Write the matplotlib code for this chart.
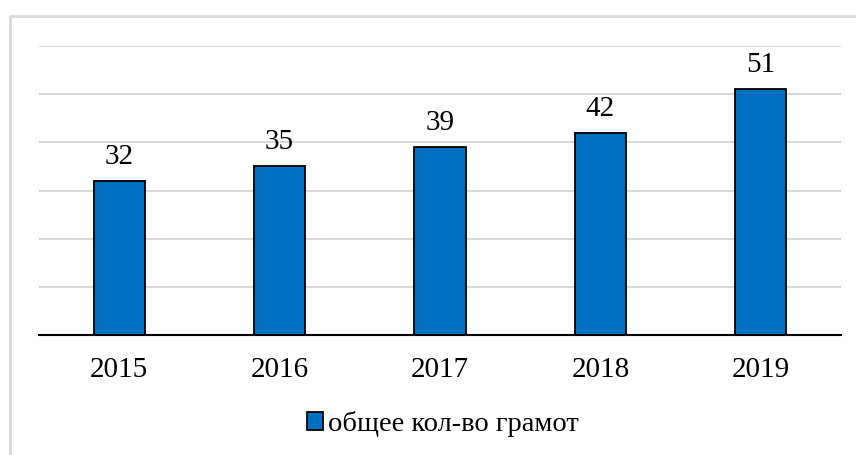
import matplotlib
matplotlib.use("Agg")
import matplotlib.pyplot as plt
from matplotlib.patches import Rectangle

years = ["2015", "2016", "2017", "2018", "2019"]
values = [32, 35, 39, 42, 51]
series_name = "общее кол-во грамот"

W, H = 856, 455
fig = plt.figure(figsize=(W / 100, H / 100), dpi=100)
plt.rcParams['font.family'] = ['Liberation Serif', 'DejaVu Serif']

# outer chart frame
fig.patches.append(Rectangle((10 / W, -0.1), 1.2, (H - 16) / H + 0.1, transform=fig.transFigure,
                             fill=False, edgecolor='#d9d9d9', linewidth=2.0))

ax = fig.add_axes([39 / W, 1 - 335 / H, (841 - 39) / W, (335 - 46) / H])
x = range(len(years))
bars = ax.bar(x, values, width=0.32, color='#0070C0', edgecolor='black', linewidth=1.3, zorder=3)
ax.set_xlim(-0.5, len(years) - 0.5)
ax.set_ylim(0, 60)
ax.set_yticks(range(0, 61, 10))
ax.yaxis.grid(True, color='#d9d9d9', linewidth=1.5, zorder=0)
ax.tick_params(axis='y', left=False, labelleft=False)
ax.tick_params(axis='x', bottom=False, labelsize=21, pad=12)
ax.set_xticks(list(x))
ax.set_xticklabels(years)
for s in ['top', 'right', 'left']:
    ax.spines[s].set_visible(False)
ax.spines['bottom'].set_linewidth(1.5)
ax.spines['bottom'].set_zorder(4)

for xi, v in zip(x, values):
    ax.annotate(str(v), (xi, v), xytext=(0, 11), textcoords='offset pixels',
                ha='center', va='bottom', fontsize=21)

fig.legend([bars], [series_name], loc='center', bbox_to_anchor=(443 / W, 1 - 424 / H),
           frameon=False, fontsize=20.5, handlelength=0.55, handleheight=0.55,
           handletextpad=0.2, borderpad=0)

fig.savefig("out.png", dpi=100)
